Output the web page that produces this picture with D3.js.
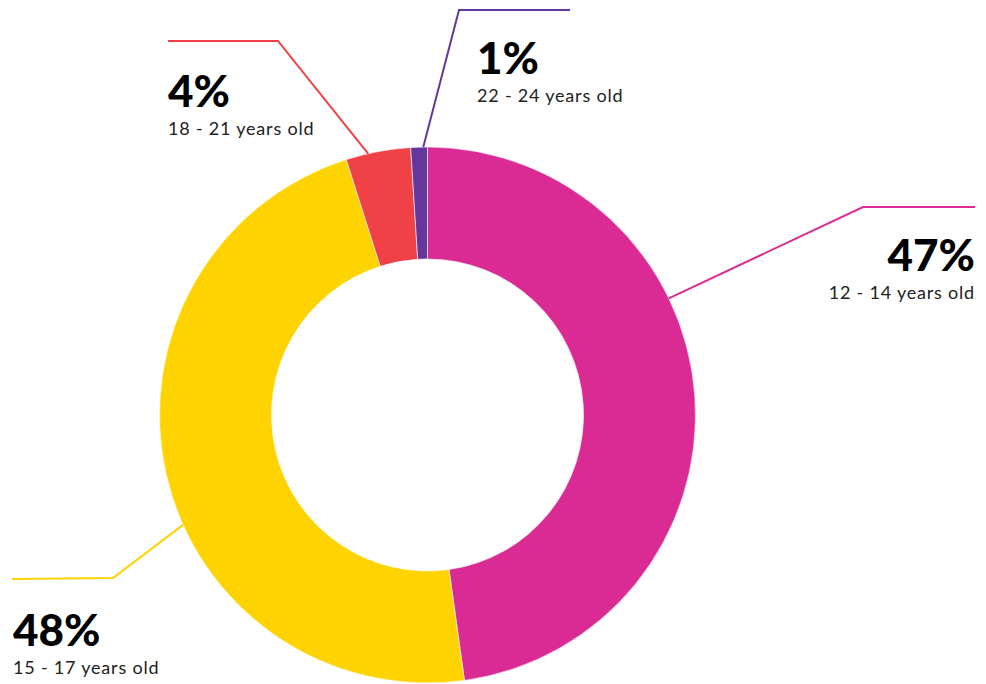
<!DOCTYPE html>
<html>
<head>
<meta charset="utf-8">
<script src="https://cdn.jsdelivr.net/npm/d3@7"></script>
<style>
html,body{margin:0;padding:0;background:#fff;}
svg{display:block;}
</style>
</head>
<body>
<svg id="chart" width="986" height="684"></svg>
<script>
// Data
const categories = ["12 - 14 years old", "15 - 17 years old", "18 - 21 years old", "22 - 24 years old"];
const shares = [47.8, 47.3, 3.9, 1.0];
const percentLabels = ["47%", "48%", "4%", "1%"];
const colors = ["#DA2A94", "#FED300", "#F04146", "#65369B"];

// Annotation layout (leader line anchor angle in degrees, elbow and end points; label position)
const annotLayout = [
  {angle: 64.2, elbow: [863, 207], end: [975, 207], lx: 975, ly: 271, anchor: "end"},
  {angle: 245.8, elbow: [113, 578], end: [12, 579], lx: 13, ly: 646, anchor: "start"},
  {angle: 347.2, elbow: [278, 41], end: [168, 41], lx: 168, ly: 107, anchor: "start"},
  {angle: 359.1, elbow: [459, 10], end: [570, 10], lx: 477, ly: 74, anchor: "start"}
];

const svg = d3.select("#chart");
const cx = 427.5, cy = 415, rOuter = 268, rInner = 156;

const data = categories.map((c, i) => ({cat: c, value: shares[i], label: percentLabels[i], color: colors[i], lay: annotLayout[i]}));

const pie = d3.pie().value(d => d.value).sort(null);
const arc = d3.arc().innerRadius(rInner).outerRadius(rOuter);

const g = svg.append("g").attr("transform", `translate(${cx},${cy})`);
g.selectAll("path").data(pie(data)).join("path")
  .attr("d", arc)
  .attr("fill", d => d.data.color)
  .attr("stroke", "#fff")
  .attr("stroke-width", 0.6);

// Leader lines and labels
const ann = svg.append("g");
data.forEach(d => {
  const a = d.lay.angle * Math.PI / 180;
  const x0 = cx + rOuter * Math.sin(a);
  const y0 = cy - rOuter * Math.cos(a);
  ann.append("polyline")
    .attr("points", [[x0, y0], d.lay.elbow, d.lay.end].map(p => p.join(",")).join(" "))
    .attr("fill", "none")
    .attr("stroke", d.color)
    .attr("stroke-width", 2);
  ann.append("text")
    .attr("x", d.lay.lx).attr("y", d.lay.ly)
    .attr("text-anchor", d.lay.anchor)
    .attr("font-family", "Lato, 'Noto Sans', sans-serif")
    .attr("font-weight", 900)
    .attr("font-size", 44)
    .attr("fill", "#000")
    .text(d.label);
  ann.append("text")
    .attr("x", d.lay.lx).attr("y", d.lay.ly + 28)
    .attr("text-anchor", d.lay.anchor)
    .attr("font-family", "Lato, 'Noto Sans', sans-serif")
    .attr("font-weight", 400)
    .attr("font-size", 18)
    .attr("letter-spacing", 0.8)
    .attr("fill", "#222")
    .text(d.cat);
});
</script>
</body>
</html>
